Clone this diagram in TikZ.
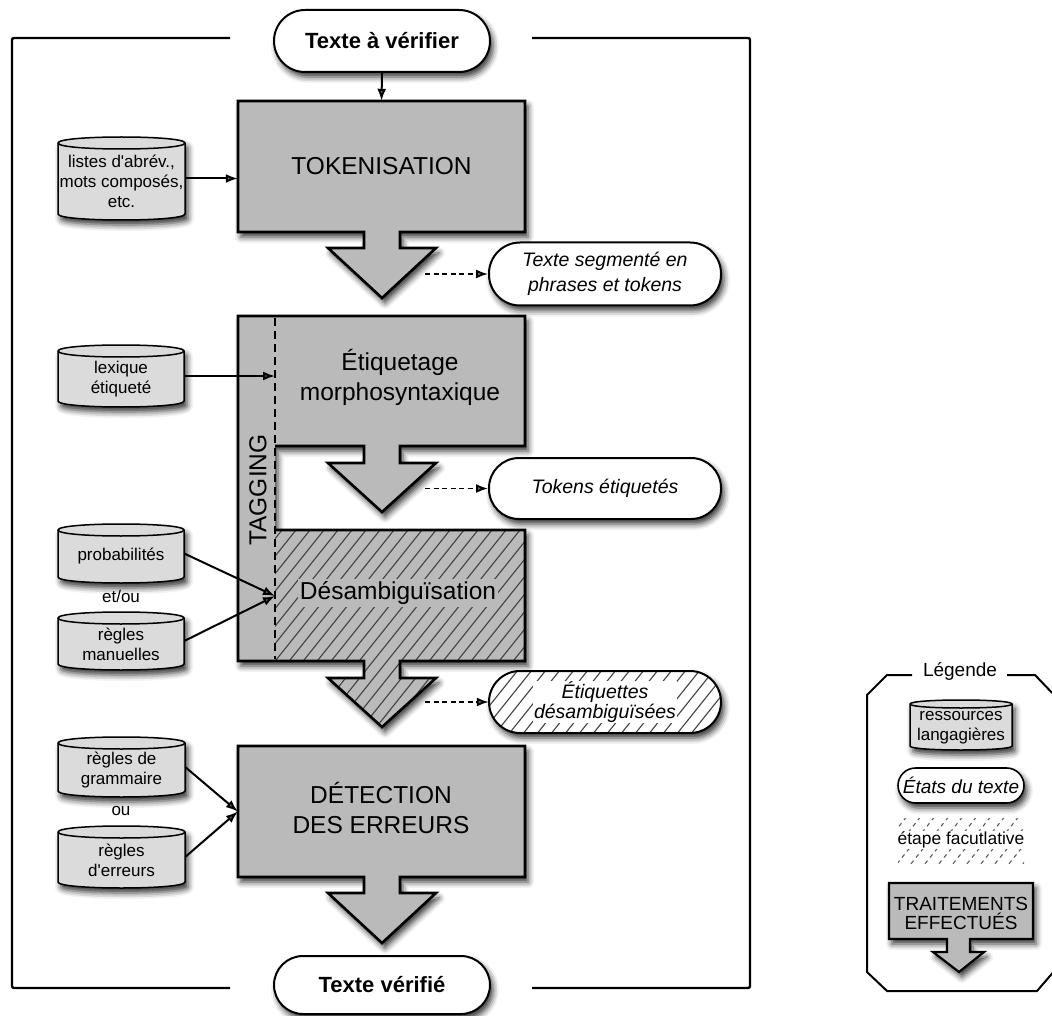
\documentclass[tikz,border=0pt]{standalone}
\usepackage{fontspec}
\setmainfont{Liberation Sans}
\usetikzlibrary{arrows.meta,shadows.blur}
\definecolor{boxgray}{gray}{0.73}
\definecolor{cylgray}{gray}{0.86}
\newcommand\myfbig{\fontsize{24.5}{30}\selectfont}
\newcommand\myfterm{\fontsize{19.5}{25}\selectfont\itshape}
\newcommand\myfcyl{\fontsize{17}{20}\selectfont}
\newcommand\myfbold{\fontsize{22}{26}\selectfont\bfseries}
\newcommand\apos{\textquotesingle}
\tikzset{
  shad/.style={blur shadow={shadow xshift=3pt,shadow yshift=-5pt,shadow blur radius=6pt,shadow opacity=80}},
  boxline/.style={line width=2.6pt,line join=miter},
  lbl/.style={inner sep=0pt,align=center},
  arr/.style={line width=2pt,-{Latex[length=12pt,width=9pt]}},
  darr/.style={line width=1.8pt,dash pattern=on 5pt off 3.5pt,-{Latex[length=12pt,width=9pt]}},
  hatchline/.style={line width=1.1pt,black!75},
  termline/.style={line width=2pt},
}
% cylinder: name, cx, cy, w, h, text, ry
\newcommand\mycyl[7]{%
  \path[fill=cylgray,shad] (#2-#4/2,#3-#5/2+#7) -- (#2-#4/2,#3+#5/2-#7)
     .. controls (#2-#4/2,#3+#5/2+#7/3) and (#2+#4/2,#3+#5/2+#7/3) .. (#2+#4/2,#3+#5/2-#7)
     -- (#2+#4/2,#3-#5/2+#7)
     .. controls (#2+#4/2,#3-#5/2-#7/3) and (#2-#4/2,#3-#5/2-#7/3) .. (#2-#4/2,#3-#5/2+#7) -- cycle;
  \draw[line width=1.5pt] (#2-#4/2,#3-#5/2+#7) -- (#2-#4/2,#3+#5/2-#7)
     .. controls (#2-#4/2,#3+#5/2+#7/3) and (#2+#4/2,#3+#5/2+#7/3) .. (#2+#4/2,#3+#5/2-#7)
     -- (#2+#4/2,#3-#5/2+#7)
     .. controls (#2+#4/2,#3-#5/2-#7/3) and (#2-#4/2,#3-#5/2-#7/3) .. (#2-#4/2,#3-#5/2+#7) -- cycle;
  \draw[line width=1.5pt] (#2-#4/2,#3-#5/2+#7) .. controls (#2-#4/2,#3-#5/2+#7*7/3) and (#2+#4/2,#3-#5/2+#7*7/3) .. (#2+#4/2,#3-#5/2+#7);
  \node[inner sep=0pt,minimum width=#4pt,minimum height=#5pt] (#1) at (#2,#3) {};
  \node[lbl,font=\myfcyl] (#1-t) at (#2,#3+3) {#6};
}
\begin{document}
\begin{tikzpicture}[x=1pt,y=-1pt]
\useasboundingbox (0,0) rectangle (1052,1016);

% outer frame
\draw[line width=2.4pt,rounded corners=2pt] (230,38) -- (12,38) -- (12,988) -- (230,988);
\draw[line width=2.4pt,rounded corners=2pt] (532,38) -- (750,38) -- (750,988) -- (532,988);

% terminals
\node[draw,termline,fill=white,rounded corners=31pt,minimum width=216pt,minimum height=62pt,font=\myfbold,shad] (tin) at (382,41) {Texte à vérifier};
\node[draw,termline,fill=white,rounded corners=29pt,minimum width=216pt,minimum height=58pt,font=\myfbold,shad] (tout) at (382,985) {Texte vérifié};

% TOKENISATION
\filldraw[fill=boxgray,boxline,shad] (238,101) -- (525,101) -- (525,232) -- (400,232) -- (400,248) -- (436,248) -- (382,298) -- (328,248) -- (364,248) -- (364,232) -- (238,232) -- cycle;
\node[lbl,minimum width=287pt,minimum height=131pt,font=\myfbig] (tok) at (381.5,166.5) {TOKENISATION};

% TAGGING block
\fill[boxgray,shad] (238,316) -- (525,316) -- (525,446) -- (400,446) -- (400,463) -- (436,463) -- (382,512) -- (328,463) -- (364,463) -- (364,446) -- (275,446) -- (275,530) -- (525,530) -- (525,661) -- (400,661) -- (400,678) -- (436,678) -- (382,727) -- (328,678) -- (364,678) -- (364,661) -- (238,661) -- cycle;
\begin{scope}
  \clip (275,530) -- (525,530) -- (525,661) -- (400,661) -- (400,678) -- (436,678) -- (382,727) -- (328,678) -- (364,678) -- (364,661) -- (275,661) -- cycle;
  \foreach \i in {0,...,34} \draw[hatchline] (90+\i*14,735) -- ++(164,-205);
\end{scope}
\draw[line width=1.8pt,dash pattern=on 8pt off 5pt] (275,318) -- (275,659);
\draw[boxline] (275,530) -- (525,530) -- (525,661) -- (400,661) -- (400,678) -- (436,678) -- (382,727) -- (328,678) -- (364,678) -- (364,661) -- (238,661) -- (238,316) -- (525,316) -- (525,446) -- (400,446) -- (400,463) -- (436,463) -- (382,512) -- (328,463) -- (364,463) -- (364,446) -- (275,446);
\node[lbl,font=\myfbig] (etiq) at (400,377) {Étiquetage\\morphosyntaxique};
\node[fill=boxgray,inner sep=2pt,font=\myfbig] (desamb) at (398,593) {Désambiguïsation};
\node[lbl,rotate=90,font=\myfbig] (tag) at (258,490) {TAGGING};
\coordinate (tg1) at (275,377);
\coordinate (tg2) at (275,596);

% DETECTION
\filldraw[fill=boxgray,boxline,shad] (238,746) -- (525,746) -- (525,877) -- (400,877) -- (400,893) -- (436,893) -- (382,943) -- (328,893) -- (364,893) -- (364,877) -- (238,877) -- cycle;
\node[lbl,minimum width=287pt,minimum height=131pt,font=\myfbig] (det) at (381.5,811.5) {};
\node[lbl,font=\myfbig] (det-t) at (381,808) {DÉTECTION\\DES ERREURS};

% state terminals
\node[draw,termline,fill=white,rounded corners=31pt,minimum width=232pt,minimum height=63pt,align=center,font=\myfterm,shad] (seg) at (605,274) {Texte segmenté en\\phrases et tokens};
\node[draw,termline,fill=white,rounded corners=30pt,minimum width=232pt,minimum height=61pt,font=\myfterm,shad] (toke) at (605,488.5) {Tokens étiquetés};
\node[fill=white,rounded corners=31pt,minimum width=232pt,minimum height=62pt,shad] (etqd) at (605,702) {};
\begin{scope}
  \clip[rounded corners=31pt] (489,671) rectangle (721,733);
  \foreach \i in {0,...,23} \draw[hatchline] (420+\i*14,740) -- ++(60,-75);
\end{scope}
\draw[termline,rounded corners=31pt] (489,671) rectangle (721,733);
\node[fill=white,inner sep=1pt,align=center,font=\fontsize{19.5}{20}\selectfont\itshape] (etqd-t) at (605,702) {Étiquettes\\désambiguïsées};

% dotted arrows
\coordinate (d1) at (425,274);
\coordinate (d2) at (425,488.5);
\coordinate (d3) at (425,702);
\draw[darr] (d1) -- (seg.west);
\draw[darr] (d2) -- (toke.west);
\draw[darr] (d3) -- (etqd.west);

% resources
\mycyl{c1}{121.5}{178.5}{127}{83}{listes d\apos abrév.,\\mots composés,\\etc.}{6}
\mycyl{c2}{121}{376}{126}{62}{lexique\\étiqueté}{6}
\mycyl{c3}{121}{553.5}{126}{59}{probabilités}{6}
\mycyl{c4}{121}{641}{126}{58}{règles\\manuelles}{6}
\mycyl{c5}{121.5}{767}{127}{60}{règles de\\grammaire}{6}
\mycyl{c6}{121.5}{857}{127}{62}{règles\\d\apos erreurs}{6}
\node[lbl,font=\myfcyl] (etou) at (121,596) {et/ou};
\node[lbl,font=\myfcyl] (ou) at (121,811) {ou};

% arrows
\draw[arr] (tin.south) -- (tok.north);
\draw[arr] (c1.east) -- (c1.east -| tok.west);
\draw[arr] (c2.east) -- (c2.east -| tg1);
\draw[arr] (c3.east) -- (tg2);
\draw[arr] (c4.east) -- (tg2);
\draw[arr] (c5.east) -- (det.west);
\draw[arr] (c6.east) -- (det.west);

% legend
\draw[line width=2pt] (912,675) -- (887,675) -- (867,695) -- (867,972) -- (887,991) -- (1037,991) -- (1056,969) -- (1056,697) -- (1035,675) -- (1007,675);
\node[lbl,font=\fontsize{19}{19}\selectfont] (legt) at (960,671) {Légende};
\mycyl{lc}{961}{725}{102}{50}{ressources\\langagières}{4}
\node[draw,line width=1.6pt,fill=white,rounded corners=17.5pt,minimum width=126pt,minimum height=35pt,inner sep=1pt,font=\fontsize{19}{19}\selectfont\itshape,shad] (lstate) at (961,785.5) {États du texte};
\begin{scope}
  \clip (898,818) rectangle (1024,863);
  \foreach \i in {0,...,13} \draw[line width=1.1pt,black!65,dash pattern=on 4pt off 4pt] (850+\i*14,870) -- ++(44,-55);
\end{scope}
\node[fill=white,inner sep=1pt,font=\fontsize{17.4}{18}\selectfont] (lopt) at (961,840) {étape facutlative};
\filldraw[fill=boxgray,line width=2.2pt,line join=miter,shad] (889,883) -- (1033,883) -- (1033,939) -- (970,939) -- (970,952) -- (984,952) -- (959,972) -- (933,952) -- (947,952) -- (947,939) -- (889,939) -- cycle;
\node[lbl,font=\fontsize{19}{19}\selectfont] (ltrt) at (961,913) {TRAITEMENTS\\EFFECTUÉS};
\end{tikzpicture}
\end{document}
